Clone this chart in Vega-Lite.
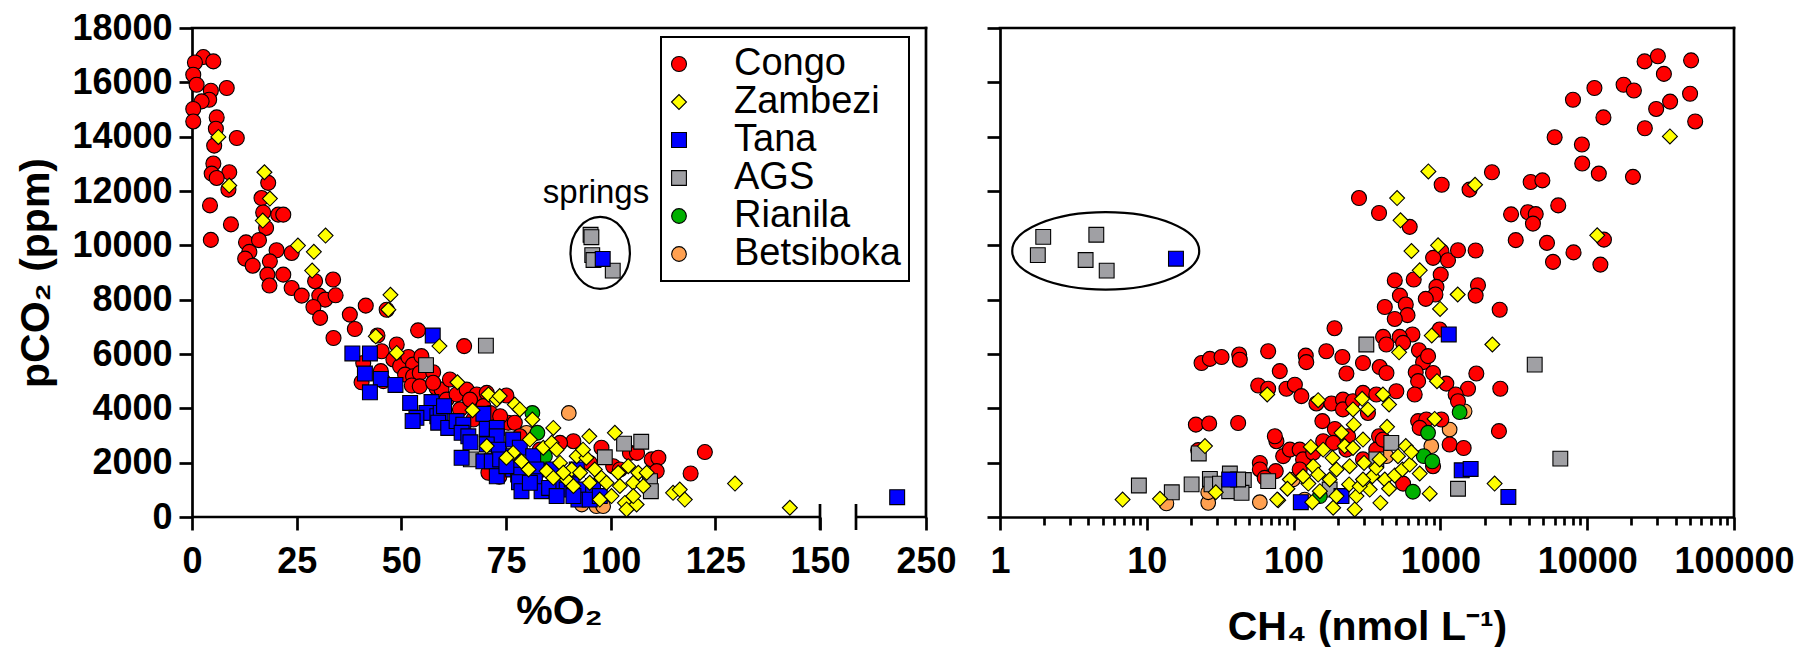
{
  "$schema": "https://vega.github.io/schema/vega-lite/v6.json",
  "padding": {"left": 15, "top": 10, "right": 0, "bottom": 0},
  "bounds": "flush",
  "spacing": 74,
  "config": {
    "view": {"stroke": null},
    "font": "Liberation Sans",
    "axis": {
      "domainColor": "black", "domainWidth": 2.7, "tickColor": "black", "tickWidth": 2.7, "tickSize": 13,
      "labelColor": "black", "titleColor": "black", "labelFont": "Liberation Sans", "titleFont": "Liberation Sans",
      "labelFontWeight": "bold", "titleFontWeight": "bold", "labelFontSize": 36, "titleFontSize": 41,
      "grid": false, "labelOverlap": false, "labelFlush": false
    },
    "legend": {
      "title": null, "padding": 8, "strokeColor": "black", "fillColor": "white",
      "labelFont": "Liberation Sans", "labelFontSize": 38, "labelFontWeight": "normal", "labelColor": "black", "labelLimit": 400,
      "labelOffset": 36, "symbolOffset": -9, "rowPadding": -4.4,
      "symbolStrokeColor": "black", "symbolStrokeWidth": 1.1, "symbolOpacity": 1
    }
  },
  "datasets": {
    "o2": [
      {"river":"Betsiboka","o2":90.0,"pco2":3830},{"river":"Betsiboka","o2":79.9,"pco2":3100},{"river":"Betsiboka","o2":93.1,"pco2":460},{"river":"Betsiboka","o2":96.6,"pco2":400},{"river":"Betsiboka","o2":98.2,"pco2":400},
      {"river":"Congo","o2":2.7,"pco2":16930},{"river":"Congo","o2":5.1,"pco2":16770},{"river":"Congo","o2":0.7,"pco2":16730},{"river":"Congo","o2":0.3,"pco2":16280},{"river":"Congo","o2":1.1,"pco2":15910},{"river":"Congo","o2":4.5,"pco2":15690},{"river":"Congo","o2":8.3,"pco2":15790},{"river":"Congo","o2":4.1,"pco2":15360},{"river":"Congo","o2":2.3,"pco2":15300},{"river":"Congo","o2":0.3,"pco2":15020},
      {"river":"Congo","o2":0.3,"pco2":14560},{"river":"Congo","o2":5.9,"pco2":14710},{"river":"Congo","o2":5.7,"pco2":14290},{"river":"Congo","o2":10.7,"pco2":13950},{"river":"Congo","o2":5.3,"pco2":13670},{"river":"Congo","o2":5.1,"pco2":13010},{"river":"Congo","o2":8.9,"pco2":12690},{"river":"Congo","o2":4.7,"pco2":12640},{"river":"Congo","o2":5.9,"pco2":12480},{"river":"Congo","o2":8.7,"pco2":12050},
      {"river":"Congo","o2":4.3,"pco2":11470},{"river":"Congo","o2":9.3,"pco2":10770},{"river":"Congo","o2":4.5,"pco2":10200},{"river":"Congo","o2":18.2,"pco2":12300},{"river":"Congo","o2":16.6,"pco2":11740},{"river":"Congo","o2":17.0,"pco2":11210},{"river":"Congo","o2":20.6,"pco2":11130},{"river":"Congo","o2":21.8,"pco2":11130},{"river":"Congo","o2":17.7,"pco2":10640},{"river":"Congo","o2":12.9,"pco2":10110},
      {"river":"Congo","o2":16.0,"pco2":10190},{"river":"Congo","o2":13.7,"pco2":9760},{"river":"Congo","o2":12.7,"pco2":9510},{"river":"Congo","o2":14.5,"pco2":9250},{"river":"Congo","o2":20.2,"pco2":9820},{"river":"Congo","o2":23.8,"pco2":9720},{"river":"Congo","o2":18.6,"pco2":9410},{"river":"Congo","o2":18.0,"pco2":8920},{"river":"Congo","o2":21.8,"pco2":8920},{"river":"Congo","o2":18.5,"pco2":8520},
      {"river":"Congo","o2":23.8,"pco2":8430},{"river":"Congo","o2":26.2,"pco2":8150},{"river":"Congo","o2":29.4,"pco2":8680},{"river":"Congo","o2":33.7,"pco2":8740},{"river":"Congo","o2":30.4,"pco2":8150},{"river":"Congo","o2":31.8,"pco2":8000},{"river":"Congo","o2":34.3,"pco2":8160},{"river":"Congo","o2":29.0,"pco2":7730},{"river":"Congo","o2":30.6,"pco2":7330},{"river":"Congo","o2":37.7,"pco2":7450},
      {"river":"Congo","o2":41.5,"pco2":7780},{"river":"Congo","o2":46.5,"pco2":7630},{"river":"Congo","o2":33.8,"pco2":6590},{"river":"Congo","o2":38.9,"pco2":6920},{"river":"Congo","o2":54.0,"pco2":6870},{"river":"Congo","o2":44.3,"pco2":6680},{"river":"Congo","o2":45.3,"pco2":6100},{"river":"Congo","o2":48.9,"pco2":6350},{"river":"Congo","o2":40.9,"pco2":5670},{"river":"Congo","o2":40.5,"pco2":4960},
      {"river":"Congo","o2":45.1,"pco2":5370},{"river":"Congo","o2":45.7,"pco2":5000},{"river":"Congo","o2":48.1,"pco2":5800},{"river":"Congo","o2":49.7,"pco2":5550},{"river":"Congo","o2":51.7,"pco2":5890},{"river":"Congo","o2":52.8,"pco2":5610},{"river":"Congo","o2":54.8,"pco2":5920},{"river":"Congo","o2":50.9,"pco2":5240},{"river":"Congo","o2":52.8,"pco2":5180},{"river":"Congo","o2":54.4,"pco2":5300},
      {"river":"Congo","o2":57.6,"pco2":5330},{"river":"Congo","o2":52.5,"pco2":4840},{"river":"Congo","o2":54.4,"pco2":4810},{"river":"Congo","o2":58.4,"pco2":4750},{"river":"Congo","o2":59.6,"pco2":4690},{"river":"Congo","o2":60.8,"pco2":4320},{"river":"Congo","o2":63.2,"pco2":4510},{"river":"Congo","o2":65.6,"pco2":4690},{"river":"Congo","o2":68.0,"pco2":4510},{"river":"Congo","o2":70.4,"pco2":4570},
      {"river":"Congo","o2":75.1,"pco2":4470},{"river":"Congo","o2":64.0,"pco2":3960},{"river":"Congo","o2":66.4,"pco2":4320},{"river":"Congo","o2":69.6,"pco2":4080},{"river":"Congo","o2":71.2,"pco2":3830},{"river":"Congo","o2":75.5,"pco2":3470},{"river":"Congo","o2":77.1,"pco2":3470},{"river":"Congo","o2":70.8,"pco2":1630},{"river":"Congo","o2":73.4,"pco2":1480},{"river":"Congo","o2":91.1,"pco2":2790},
      {"river":"Congo","o2":97.8,"pco2":2550},{"river":"Congo","o2":104.6,"pco2":2360},{"river":"Congo","o2":106.3,"pco2":2360},{"river":"Congo","o2":109.8,"pco2":2120},{"river":"Congo","o2":111.4,"pco2":2180},{"river":"Congo","o2":111.0,"pco2":1690},{"river":"Congo","o2":122.5,"pco2":2390},{"river":"Congo","o2":119.1,"pco2":1600},{"river":"Congo","o2":65.0,"pco2":6290},{"river":"Congo","o2":78.3,"pco2":2970},
      {"river":"Congo","o2":83.1,"pco2":2480},{"river":"Congo","o2":87.9,"pco2":2730},{"river":"Congo","o2":95.0,"pco2":1990},{"river":"Congo","o2":100.6,"pco2":1870},{"river":"Congo","o2":102.2,"pco2":1750},{"river":"Congo","o2":67.2,"pco2":3590},{"river":"Congo","o2":73.6,"pco2":3710},{"river":"Congo","o2":57.6,"pco2":4940},{"river":"Congo","o2":61.6,"pco2":5060},
      {"river":"AGS","o2":70.2,"pco2":6310},{"river":"AGS","o2":55.9,"pco2":5590},{"river":"AGS","o2":66.6,"pco2":2120},{"river":"AGS","o2":98.6,"pco2":2200},{"river":"AGS","o2":103.2,"pco2":2700},{"river":"AGS","o2":107.3,"pco2":2770},{"river":"AGS","o2":109.4,"pco2":1320},{"river":"AGS","o2":109.6,"pco2":950},
      {"river":"AGS","o2":95.2,"pco2":10390},{"river":"AGS","o2":95.4,"pco2":10300},{"river":"AGS","o2":95.6,"pco2":9640},{"river":"AGS","o2":95.9,"pco2":9460},{"river":"AGS","o2":100.5,"pco2":9070},
      {"river":"Rianila","o2":81.3,"pco2":3830},{"river":"Rianila","o2":82.5,"pco2":3100},{"river":"Rianila","o2":84.3,"pco2":2240},{"river":"Rianila","o2":83.1,"pco2":1750},
      {"river":"Tana","o2":57.5,"pco2":6680},{"river":"Tana","o2":38.3,"pco2":6020},{"river":"Tana","o2":42.5,"pco2":6020},{"river":"Tana","o2":41.3,"pco2":5280},{"river":"Tana","o2":45.1,"pco2":5080},{"river":"Tana","o2":48.6,"pco2":4860},{"river":"Tana","o2":42.5,"pco2":4590},{"river":"Tana","o2":52.1,"pco2":4200},{"river":"Tana","o2":57.2,"pco2":4230},{"river":"Tana","o2":56.0,"pco2":3830},
      {"river":"Tana","o2":53.6,"pco2":3650},{"river":"Tana","o2":52.7,"pco2":3530},{"river":"Tana","o2":58.6,"pco2":3710},{"river":"Tana","o2":59.4,"pco2":3830},{"river":"Tana","o2":60.2,"pco2":4080},{"river":"Tana","o2":58.8,"pco2":3470},{"river":"Tana","o2":61.2,"pco2":3280},{"river":"Tana","o2":63.2,"pco2":3530},{"river":"Tana","o2":64.8,"pco2":3400},{"river":"Tana","o2":64.4,"pco2":3100},
      {"river":"Tana","o2":66.0,"pco2":2970},{"river":"Tana","o2":66.5,"pco2":2750},{"river":"Tana","o2":69.6,"pco2":3800},{"river":"Tana","o2":70.4,"pco2":3240},{"river":"Tana","o2":72.8,"pco2":3280},{"river":"Tana","o2":72.8,"pco2":2970},{"river":"Tana","o2":70.4,"pco2":2670},{"river":"Tana","o2":73.3,"pco2":2480},{"river":"Tana","o2":69.6,"pco2":2050},{"river":"Tana","o2":71.6,"pco2":2050},
      {"river":"Tana","o2":73.6,"pco2":2120},{"river":"Tana","o2":76.7,"pco2":2850},{"river":"Tana","o2":76.7,"pco2":2240},{"river":"Tana","o2":78.3,"pco2":2550},{"river":"Tana","o2":76.7,"pco2":1750},{"river":"Tana","o2":77.9,"pco2":1560},{"river":"Tana","o2":78.1,"pco2":1280},{"river":"Tana","o2":78.7,"pco2":950},{"river":"Tana","o2":81.5,"pco2":2240},{"river":"Tana","o2":82.3,"pco2":1750},
      {"river":"Tana","o2":81.9,"pco2":1320},{"river":"Tana","o2":83.5,"pco2":950},{"river":"Tana","o2":86.3,"pco2":1750},{"river":"Tana","o2":85.3,"pco2":1070},{"river":"Tana","o2":88.7,"pco2":1260},{"river":"Tana","o2":89.5,"pco2":1010},{"river":"Tana","o2":90.7,"pco2":1380},{"river":"Tana","o2":91.9,"pco2":1750},{"river":"Tana","o2":93.5,"pco2":1010},{"river":"Tana","o2":95.8,"pco2":1140},
      {"river":"Tana","o2":92.3,"pco2":640},{"river":"Tana","o2":95.0,"pco2":640},{"river":"Tana","o2":64.4,"pco2":2180},{"river":"Tana","o2":72.8,"pco2":1500},{"river":"Tana","o2":80.7,"pco2":1260},{"river":"Tana","o2":87.1,"pco2":770},{"river":"Tana","o2":91.1,"pco2":770},{"river":"Tana","o2":97.4,"pco2":770},{"river":"Tana","o2":75.1,"pco2":1870},{"river":"Tana","o2":98.1,"pco2":9500},{"river":"Tana","o2":243,"pco2":728},
      {"river":"Zambezi","o2":6.3,"pco2":13990},{"river":"Zambezi","o2":8.9,"pco2":12200},{"river":"Zambezi","o2":17.3,"pco2":12690},{"river":"Zambezi","o2":18.6,"pco2":11720},{"river":"Zambezi","o2":16.9,"pco2":10910},{"river":"Zambezi","o2":25.3,"pco2":9990},{"river":"Zambezi","o2":31.9,"pco2":10360},{"river":"Zambezi","o2":29.1,"pco2":9760},{"river":"Zambezi","o2":28.7,"pco2":9070},{"river":"Zambezi","o2":47.4,"pco2":8180},
      {"river":"Zambezi","o2":46.9,"pco2":7630},{"river":"Zambezi","o2":43.9,"pco2":6650},{"river":"Zambezi","o2":48.9,"pco2":6040},{"river":"Zambezi","o2":59.1,"pco2":6290},{"river":"Zambezi","o2":63.4,"pco2":4960},{"river":"Zambezi","o2":67.0,"pco2":3930},{"river":"Zambezi","o2":70.8,"pco2":4510},{"river":"Zambezi","o2":72.8,"pco2":4320},{"river":"Zambezi","o2":73.5,"pco2":4450},{"river":"Zambezi","o2":77.1,"pco2":4140},
      {"river":"Zambezi","o2":78.3,"pco2":3960},{"river":"Zambezi","o2":81.3,"pco2":3590},{"river":"Zambezi","o2":80.7,"pco2":2850},{"river":"Zambezi","o2":83.9,"pco2":2550},{"river":"Zambezi","o2":86.3,"pco2":3280},{"river":"Zambezi","o2":85.9,"pco2":2730},{"river":"Zambezi","o2":87.1,"pco2":2480},{"river":"Zambezi","o2":70.4,"pco2":2610},{"river":"Zambezi","o2":76.7,"pco2":2360},{"river":"Zambezi","o2":78.7,"pco2":2050},
      {"river":"Zambezi","o2":80.4,"pco2":1750},{"river":"Zambezi","o2":75.1,"pco2":2180},{"river":"Zambezi","o2":84.7,"pco2":1690},{"river":"Zambezi","o2":87.9,"pco2":1990},{"river":"Zambezi","o2":89.5,"pco2":1380},{"river":"Zambezi","o2":90.7,"pco2":1750},{"river":"Zambezi","o2":91.9,"pco2":2240},{"river":"Zambezi","o2":94.2,"pco2":2180},{"river":"Zambezi","o2":94.9,"pco2":2970},{"river":"Zambezi","o2":93.4,"pco2":2480},
      {"river":"Zambezi","o2":96.2,"pco2":1750},{"river":"Zambezi","o2":97.8,"pco2":1440},{"river":"Zambezi","o2":99.0,"pco2":1260},{"river":"Zambezi","o2":101.0,"pco2":3100},{"river":"Zambezi","o2":101.8,"pco2":1630},{"river":"Zambezi","o2":100.2,"pco2":770},{"river":"Zambezi","o2":102.2,"pco2":1140},{"river":"Zambezi","o2":104.2,"pco2":1870},{"river":"Zambezi","o2":105.4,"pco2":1260},{"river":"Zambezi","o2":106.6,"pco2":1630},
      {"river":"Zambezi","o2":107.8,"pco2":1140},{"river":"Zambezi","o2":108.6,"pco2":1630},{"river":"Zambezi","o2":103.4,"pco2":520},{"river":"Zambezi","o2":106.2,"pco2":460},{"river":"Zambezi","o2":103.8,"pco2":280},{"river":"Zambezi","o2":97.4,"pco2":640},{"river":"Zambezi","o2":105.4,"pco2":770},{"river":"Zambezi","o2":114.9,"pco2":890},{"river":"Zambezi","o2":116.5,"pco2":1010},{"river":"Zambezi","o2":117.7,"pco2":640},
      {"river":"Zambezi","o2":91.1,"pco2":1140},{"river":"Zambezi","o2":92.7,"pco2":1630},{"river":"Zambezi","o2":95.0,"pco2":1260},{"river":"Zambezi","o2":88.7,"pco2":1630},{"river":"Zambezi","o2":86.3,"pco2":1440},{"river":"Zambezi","o2":129.7,"pco2":1230},{"river":"Zambezi","o2":142.8,"pco2":340}
    ],
    "ch4": [
      {"river":"Betsiboka","ch4":1462,"pco2":3890},{"river":"Betsiboka","ch4":1156,"pco2":3220},{"river":"Betsiboka","ch4":867,"pco2":2610},{"river":"Betsiboka","ch4":429,"pco2":2240},{"river":"Betsiboka","ch4":26.2,"pco2":520},{"river":"Betsiboka","ch4":26.2,"pco2":910},{"river":"Betsiboka","ch4":58.9,"pco2":545},{"river":"Betsiboka","ch4":13.6,"pco2":500},{"river":"Betsiboka","ch4":119,"pco2":640},{"river":"Betsiboka","ch4":99,"pco2":1380},
      {"river":"Congo","ch4":24600,"pco2":16770},{"river":"Congo","ch4":30300,"pco2":16960},{"river":"Congo","ch4":51000,"pco2":16810},{"river":"Congo","ch4":33300,"pco2":16310},{"river":"Congo","ch4":11200,"pco2":15790},{"river":"Congo","ch4":17700,"pco2":15910},{"river":"Congo","ch4":20800,"pco2":15700},{"river":"Congo","ch4":8000,"pco2":15360},{"river":"Congo","ch4":50200,"pco2":15580},{"river":"Congo","ch4":36700,"pco2":15290},
      {"river":"Congo","ch4":29500,"pco2":15020},{"river":"Congo","ch4":12900,"pco2":14710},{"river":"Congo","ch4":54400,"pco2":14560},{"river":"Congo","ch4":24700,"pco2":14310},{"river":"Congo","ch4":6000,"pco2":13980},{"river":"Congo","ch4":9200,"pco2":13710},{"river":"Congo","ch4":9250,"pco2":13010},{"river":"Congo","ch4":12000,"pco2":12640},{"river":"Congo","ch4":20500,"pco2":12520},{"river":"Congo","ch4":1020,"pco2":12230},
      {"river":"Congo","ch4":1580,"pco2":12050},{"river":"Congo","ch4":2245,"pco2":12690},{"river":"Congo","ch4":4120,"pco2":12330},{"river":"Congo","ch4":4950,"pco2":12390},{"river":"Congo","ch4":279,"pco2":11740},{"river":"Congo","ch4":382,"pco2":11190},{"river":"Congo","ch4":618,"pco2":10680},{"river":"Congo","ch4":3030,"pco2":11140},{"river":"Congo","ch4":3950,"pco2":11220},{"river":"Congo","ch4":4460,"pco2":11150},
      {"river":"Congo","ch4":4270,"pco2":10800},{"river":"Congo","ch4":6350,"pco2":11470},{"river":"Congo","ch4":13000,"pco2":10210},{"river":"Congo","ch4":3260,"pco2":10190},{"river":"Congo","ch4":5320,"pco2":10090},{"river":"Congo","ch4":8070,"pco2":9740},{"river":"Congo","ch4":5850,"pco2":9390},{"river":"Congo","ch4":12300,"pco2":9290},{"river":"Congo","ch4":1016,"pco2":9780},{"river":"Congo","ch4":892,"pco2":9540},
      {"river":"Congo","ch4":1127,"pco2":9450},{"river":"Congo","ch4":1318,"pco2":9820},{"river":"Congo","ch4":1738,"pco2":9810},{"river":"Congo","ch4":1005,"pco2":8920},{"river":"Congo","ch4":658,"pco2":8740},{"river":"Congo","ch4":489,"pco2":8710},{"river":"Congo","ch4":940,"pco2":8470},{"river":"Congo","ch4":925,"pco2":8190},{"river":"Congo","ch4":795,"pco2":8030},{"river":"Congo","ch4":530,"pco2":8150},
      {"river":"Congo","ch4":581,"pco2":7820},{"river":"Congo","ch4":418,"pco2":7730},{"river":"Congo","ch4":597,"pco2":7430},{"river":"Congo","ch4":489,"pco2":7290},{"river":"Congo","ch4":1803,"pco2":8530},{"river":"Congo","ch4":1738,"pco2":8150},{"river":"Congo","ch4":2535,"pco2":7630},{"river":"Congo","ch4":190,"pco2":6950},{"river":"Congo","ch4":407,"pco2":6630},{"river":"Congo","ch4":645,"pco2":6720},
      {"river":"Congo","ch4":988,"pco2":6900},{"river":"Congo","ch4":528,"pco2":6630},{"river":"Congo","ch4":428,"pco2":6350},{"river":"Congo","ch4":557,"pco2":6410},{"river":"Congo","ch4":23.6,"pco2":5670},{"river":"Congo","ch4":26.9,"pco2":5820},{"river":"Congo","ch4":32.3,"pco2":5890},{"river":"Congo","ch4":42.6,"pco2":5980},{"river":"Congo","ch4":43.0,"pco2":5790},{"river":"Congo","ch4":67.1,"pco2":6100},
      {"river":"Congo","ch4":121,"pco2":5940},{"river":"Congo","ch4":122,"pco2":5700},{"river":"Congo","ch4":167,"pco2":6100},{"river":"Congo","ch4":215,"pco2":5890},{"river":"Congo","ch4":80.5,"pco2":5370},{"river":"Congo","ch4":229,"pco2":5280},{"river":"Congo","ch4":297,"pco2":5670},{"river":"Congo","ch4":386,"pco2":5520},{"river":"Congo","ch4":429,"pco2":5300},{"river":"Congo","ch4":714,"pco2":6140},
      {"river":"Congo","ch4":762,"pco2":5700},{"river":"Congo","ch4":824,"pco2":5920},{"river":"Congo","ch4":679,"pco2":5330},{"river":"Congo","ch4":705,"pco2":5000},{"river":"Congo","ch4":891,"pco2":5300},{"river":"Congo","ch4":1097,"pco2":4910},{"river":"Congo","ch4":1757,"pco2":5280},{"river":"Congo","ch4":1542,"pco2":4720},{"river":"Congo","ch4":2559,"pco2":4720},{"river":"Congo","ch4":1270,"pco2":4510},
      {"river":"Congo","ch4":1318,"pco2":4260},{"river":"Congo","ch4":668,"pco2":4510},{"river":"Congo","ch4":57.4,"pco2":4840},{"river":"Congo","ch4":67.1,"pco2":4720},{"river":"Congo","ch4":89.4,"pco2":4720},{"river":"Congo","ch4":102,"pco2":4870},{"river":"Congo","ch4":113,"pco2":4450},{"river":"Congo","ch4":143,"pco2":4180},{"river":"Congo","ch4":181,"pco2":4180},{"river":"Congo","ch4":217,"pco2":4320},
      {"river":"Congo","ch4":217,"pco2":3960},{"river":"Congo","ch4":254,"pco2":4260},{"river":"Congo","ch4":297,"pco2":4570},{"river":"Congo","ch4":366,"pco2":4510},{"river":"Congo","ch4":501,"pco2":4630},{"river":"Congo","ch4":321,"pco2":3830},{"river":"Congo","ch4":21.6,"pco2":3400},{"river":"Congo","ch4":26.6,"pco2":3440},{"river":"Congo","ch4":41.9,"pco2":3460},{"river":"Congo","ch4":157,"pco2":3530},
      {"river":"Congo","ch4":191,"pco2":3240},{"river":"Congo","ch4":235,"pco2":2970},{"river":"Congo","ch4":382,"pco2":2970},{"river":"Congo","ch4":433,"pco2":2730},{"river":"Congo","ch4":705,"pco2":3530},{"river":"Congo","ch4":802,"pco2":3590},{"river":"Congo","ch4":1015,"pco2":3590},{"river":"Congo","ch4":723,"pco2":3280},{"river":"Congo","ch4":1156,"pco2":2670},{"river":"Congo","ch4":1440,"pco2":2540},
      {"river":"Congo","ch4":2505,"pco2":3160},{"river":"Congo","ch4":76.4,"pco2":2790},{"river":"Congo","ch4":74.5,"pco2":2970},{"river":"Congo","ch4":58.9,"pco2":1990},{"river":"Congo","ch4":58.9,"pco2":1750},{"river":"Congo","ch4":75.6,"pco2":1690},{"river":"Congo","ch4":84.9,"pco2":2240},{"river":"Congo","ch4":94.4,"pco2":2480},{"river":"Congo","ch4":110,"pco2":2480},{"river":"Congo","ch4":116,"pco2":2120},
      {"river":"Congo","ch4":110,"pco2":1750},{"river":"Congo","ch4":136,"pco2":2360},{"river":"Congo","ch4":159,"pco2":2790},{"river":"Congo","ch4":186,"pco2":2730},{"river":"Congo","ch4":229,"pco2":2480},{"river":"Congo","ch4":297,"pco2":2120},{"river":"Congo","ch4":366,"pco2":2480},{"river":"Congo","ch4":406,"pco2":2850},{"river":"Congo","ch4":891,"pco2":1870},{"river":"Congo","ch4":557,"pco2":1230},
      {"river":"Congo","ch4":63.6,"pco2":1440},{"river":"Congo","ch4":22.4,"pco2":2460},
      {"river":"AGS","ch4":1.97,"pco2":10310},{"river":"AGS","ch4":4.53,"pco2":10390},{"river":"AGS","ch4":1.81,"pco2":9640},{"river":"AGS","ch4":3.83,"pco2":9460},{"river":"AGS","ch4":5.33,"pco2":9070},{"river":"AGS","ch4":313,"pco2":6350},{"river":"AGS","ch4":4390,"pco2":5610},{"river":"AGS","ch4":6560,"pco2":2150},{"river":"AGS","ch4":1318,"pco2":1040},{"river":"AGS","ch4":14.8,"pco2":910},
      {"river":"AGS","ch4":20.2,"pco2":1200},{"river":"AGS","ch4":26.9,"pco2":1400},{"river":"AGS","ch4":27.6,"pco2":1200},{"river":"AGS","ch4":31.5,"pco2":1230},{"river":"AGS","ch4":36.8,"pco2":1600},{"river":"AGS","ch4":41.3,"pco2":1360},{"river":"AGS","ch4":45.8,"pco2":1360},{"river":"AGS","ch4":36.4,"pco2":950},{"river":"AGS","ch4":44.2,"pco2":890},{"river":"AGS","ch4":67.1,"pco2":1320},
      {"river":"AGS","ch4":463,"pco2":2730},{"river":"AGS","ch4":366,"pco2":2120},{"river":"AGS","ch4":176,"pco2":1010},{"river":"AGS","ch4":8.83,"pco2":1160},{"river":"AGS","ch4":22.6,"pco2":2340},{"river":"AGS","ch4":41.9,"pco2":1380},
      {"river":"Rianila","ch4":1352,"pco2":3860},{"river":"Rianila","ch4":824,"pco2":3100},{"river":"Rianila","ch4":770,"pco2":2240},{"river":"Rianila","ch4":881,"pco2":2050},{"river":"Rianila","ch4":650,"pco2":930},{"river":"Rianila","ch4":151,"pco2":770},
      {"river":"Tana","ch4":15.8,"pco2":9510},{"river":"Tana","ch4":1140,"pco2":6720},{"river":"Tana","ch4":36.4,"pco2":1380},{"river":"Tana","ch4":112,"pco2":545},{"river":"Tana","ch4":212,"pco2":770},{"river":"Tana","ch4":1397,"pco2":1720},{"river":"Tana","ch4":1607,"pco2":1770},{"river":"Tana","ch4":2904,"pco2":740},
      {"river":"Zambezi","ch4":828,"pco2":12720},{"river":"Zambezi","ch4":1722,"pco2":12230},{"river":"Zambezi","ch4":507,"pco2":11740},{"river":"Zambezi","ch4":535,"pco2":10920},{"river":"Zambezi","ch4":635,"pco2":9790},{"river":"Zambezi","ch4":964,"pco2":10000},{"river":"Zambezi","ch4":723,"pco2":9080},{"river":"Zambezi","ch4":1312,"pco2":8190},{"river":"Zambezi","ch4":995,"pco2":7660},{"river":"Zambezi","ch4":11700,"pco2":10370},
      {"river":"Zambezi","ch4":36600,"pco2":14010},{"river":"Zambezi","ch4":873,"pco2":6680},{"river":"Zambezi","ch4":2260,"pco2":6350},{"river":"Zambezi","ch4":12.3,"pco2":670},{"river":"Zambezi","ch4":24.9,"pco2":2610},{"river":"Zambezi","ch4":29.5,"pco2":910},{"river":"Zambezi","ch4":66.1,"pco2":4510},{"river":"Zambezi","ch4":78.5,"pco2":620},{"river":"Zambezi","ch4":94.3,"pco2":1380},{"river":"Zambezi","ch4":90.8,"pco2":1040},
      {"river":"Zambezi","ch4":126,"pco2":1230},{"river":"Zambezi","ch4":131,"pco2":2580},{"river":"Zambezi","ch4":136,"pco2":1870},{"river":"Zambezi","ch4":134,"pco2":545},{"river":"Zambezi","ch4":147,"pco2":4300},{"river":"Zambezi","ch4":151,"pco2":950},{"river":"Zambezi","ch4":159,"pco2":2480},{"river":"Zambezi","ch4":184,"pco2":2180},{"river":"Zambezi","ch4":186,"pco2":340},{"river":"Zambezi","ch4":196,"pco2":1750},
      {"river":"Zambezi","ch4":212,"pco2":3100},{"river":"Zambezi","ch4":223,"pco2":2610},{"river":"Zambezi","ch4":241,"pco2":1870},{"river":"Zambezi","ch4":239,"pco2":1200},{"river":"Zambezi","ch4":254,"pco2":3960},{"river":"Zambezi","ch4":257,"pco2":3400},{"river":"Zambezi","ch4":254,"pco2":2540},{"river":"Zambezi","ch4":261,"pco2":280},{"river":"Zambezi","ch4":268,"pco2":770},{"river":"Zambezi","ch4":293,"pco2":4350},
      {"river":"Zambezi","ch4":297,"pco2":2850},{"river":"Zambezi","ch4":302,"pco2":1990},{"river":"Zambezi","ch4":321,"pco2":3960},{"river":"Zambezi","ch4":330,"pco2":1010},{"river":"Zambezi","ch4":344,"pco2":1500},{"river":"Zambezi","ch4":366,"pco2":1810},{"river":"Zambezi","ch4":390,"pco2":520},{"river":"Zambezi","ch4":406,"pco2":4510},{"river":"Zambezi","ch4":418,"pco2":1380},{"river":"Zambezi","ch4":433,"pco2":3320},
      {"river":"Zambezi","ch4":447,"pco2":4140},{"river":"Zambezi","ch4":447,"pco2":1040},{"river":"Zambezi","ch4":489,"pco2":1530},{"river":"Zambezi","ch4":514,"pco2":2240},{"river":"Zambezi","ch4":523,"pco2":6060},{"river":"Zambezi","ch4":551,"pco2":1750},{"river":"Zambezi","ch4":581,"pco2":2610},{"river":"Zambezi","ch4":618,"pco2":1930},{"river":"Zambezi","ch4":634,"pco2":2390},{"river":"Zambezi","ch4":723,"pco2":1600},
      {"river":"Zambezi","ch4":846,"pco2":860},{"river":"Zambezi","ch4":914,"pco2":3610},{"river":"Zambezi","ch4":948,"pco2":5000},{"river":"Zambezi","ch4":2340,"pco2":1230},{"river":"Zambezi","ch4":176,"pco2":1380},{"river":"Zambezi","ch4":196,"pco2":770},{"river":"Zambezi","ch4":282,"pco2":1130},{"river":"Zambezi","ch4":386,"pco2":2120},{"river":"Zambezi","ch4":147,"pco2":1560},{"river":"Zambezi","ch4":116,"pco2":1500},
      {"river":"Zambezi","ch4":297,"pco2":1380},{"river":"Zambezi","ch4":6.84,"pco2":640},{"river":"Zambezi","ch4":77.3,"pco2":640}
    ]
  },
  "resolve": {"legend": {"color": "independent", "shape": "independent", "size": "independent"}},
  "hconcat": [
    {
      "width": 734,
      "height": 489,
      "layer": [
        {
          "data": {"values": [{}]},
          "mark": {"type": "rule", "color": "black", "strokeWidth": 2.7},
          "encoding": {"x": {"datum": 0}, "x2": {"datum": 150}, "y": {"datum": 0}}
        },
        {
          "data": {"values": [{}]},
          "mark": {"type": "rule", "color": "black", "strokeWidth": 2.7},
          "encoding": {"x": {"datum": 233}, "x2": {"datum": 250}, "y": {"datum": 0}}
        },
        {
          "data": {"values": [{}]},
          "mark": {"type": "rule", "color": "black", "strokeWidth": 2.7, "strokeCap": "square"},
          "encoding": {"x": {"datum": 0}, "x2": {"datum": 250}, "y": {"datum": 18000}}
        },
        {
          "data": {"values": [{}]},
          "mark": {"type": "rule", "color": "black", "strokeWidth": 2.7, "strokeCap": "square"},
          "encoding": {"x": {"datum": 250}, "y": {"datum": 0}, "y2": {"datum": 18000}}
        },
        {
          "data": {"values": [{}]},
          "mark": {"type": "tick", "orient": "vertical", "size": 26, "thickness": 2.7, "color": "black", "opacity": 1},
          "encoding": {"x": {"datum": 150}, "y": {"datum": 0}}
        },
        {
          "data": {"values": [{}]},
          "mark": {"type": "tick", "orient": "vertical", "size": 26, "thickness": 2.7, "color": "black", "opacity": 1},
          "encoding": {"x": {"datum": 233}, "y": {"datum": 0}}
        },
        {
          "data": {"name": "o2"},
          "mark": {"type": "point", "filled": true, "opacity": 1, "stroke": "black", "strokeWidth": 1.1},
          "encoding": {
            "x": {
              "field": "o2", "type": "quantitative",
              "scale": {"domain": [0, 150, 233, 250], "range": [0, 628, 664, 734], "nice": false, "zero": false},
              "axis": {"values": [0, 25, 50, 75, 100, 125, 150, 250], "domain": false, "title": "%O₂", "labelPadding": 14, "titlePadding": 12}
            },
            "y": {
              "field": "pco2", "type": "quantitative",
              "scale": {"domain": [0, 18000], "nice": false, "zero": false},
              "axis": {"values": [0, 2000, 4000, 6000, 8000, 10000, 12000, 14000, 16000, 18000], "format": "d", "title": "pCO₂ (ppm)", "labelPadding": 7, "titlePadding": 14}
            },
            "color": {
              "field": "river", "type": "nominal",
              "scale": {"domain": ["Congo", "Zambezi", "Tana", "AGS", "Rianila", "Betsiboka"], "range": ["#ff0000", "#ffff00", "#0000ff", "#a0a0a4", "#00b000", "#ffa050"]},
              "legend": {"orient": "none", "legendX": 469, "legendY": 9, "encode": {"legend": {"update": {"strokeWidth": {"value": 2}}}}}
            },
            "shape": {
              "field": "river", "type": "nominal",
              "scale": {"domain": ["Congo", "Zambezi", "Tana", "AGS", "Rianila", "Betsiboka"], "range": ["circle", "diamond", "square", "square", "circle", "circle"]},
              "legend": {"orient": "none", "legendX": 469, "legendY": 9, "encode": {"legend": {"update": {"strokeWidth": {"value": 2}}}}}
            },
            "size": {
              "field": "river", "type": "nominal",
              "scale": {"domain": ["Congo", "Zambezi", "Tana", "AGS", "Rianila", "Betsiboka"], "range": [225, 215, 105, 105, 225, 225]},
              "legend": {"orient": "none", "legendX": 469, "legendY": 9, "encode": {"legend": {"update": {"strokeWidth": {"value": 2}}}}}
            }
          }
        },
        {
          "data": {"values": [{}]},
          "mark": {"type": "point", "shape": "M -0.825 0 A 0.825 1 0 1 0 0.825 0 A 0.825 1 0 1 0 -0.825 0 Z", "size": 5184, "filled": false, "stroke": "black", "strokeWidth": 2.2, "opacity": 1},
          "encoding": {"x": {"datum": 97.5}, "y": {"datum": 9720}}
        },
        {
          "data": {"values": [{}]},
          "mark": {"type": "text", "text": "springs", "font": "Liberation Sans", "fontSize": 33, "align": "center", "baseline": "alphabetic", "color": "black"},
          "encoding": {"x": {"datum": 96.5}, "y": {"datum": 11570}}
        }
      ]
    },
    {
      "width": 734,
      "height": 489,
      "layer": [
        {
          "data": {"values": [{}]},
          "mark": {"type": "rule", "color": "black", "strokeWidth": 2.7, "strokeCap": "square"},
          "encoding": {"x": {"datum": 1}, "x2": {"datum": 100000}, "y": {"datum": 18000}}
        },
        {
          "data": {"values": [{}]},
          "mark": {"type": "rule", "color": "black", "strokeWidth": 2.7, "strokeCap": "square"},
          "encoding": {"x": {"datum": 100000}, "y": {"datum": 0}, "y2": {"datum": 18000}}
        },
        {
          "data": {"name": "ch4"},
          "mark": {"type": "point", "filled": true, "opacity": 1, "stroke": "black", "strokeWidth": 1.1},
          "encoding": {
            "x": {
              "field": "ch4", "type": "quantitative",
              "scale": {"type": "log", "domain": [1, 100000], "nice": false},
              "axis": {
                "values": [1, 2, 3, 4, 5, 6, 7, 8, 9, 10, 20, 30, 40, 50, 60, 70, 80, 90, 100, 200, 300, 400, 500, 600, 700, 800, 900, 1000, 2000, 3000, 4000, 5000, 6000, 7000, 8000, 9000, 10000, 20000, 30000, 40000, 50000, 60000, 70000, 80000, 90000, 100000],
                "format": "d",
                "labelExpr": "indexof([1, 10, 100, 1000, 10000, 100000], datum.value) >= 0 ? datum.label : ''",
                "tickSize": {"condition": {"test": "indexof([1, 10, 100, 1000, 10000, 100000], datum.value) >= 0", "value": 13}, "value": 8},
                "title": "CH₄ (nmol L⁻¹)", "labelPadding": 14, "titlePadding": 28
              }
            },
            "y": {
              "field": "pco2", "type": "quantitative",
              "scale": {"domain": [0, 18000], "nice": false, "zero": false},
              "axis": {"values": [0, 2000, 4000, 6000, 8000, 10000, 12000, 14000, 16000, 18000], "labels": false, "title": null}
            },
            "color": {
              "field": "river", "type": "nominal",
              "scale": {"domain": ["Congo", "Zambezi", "Tana", "AGS", "Rianila", "Betsiboka"], "range": ["#ff0000", "#ffff00", "#0000ff", "#a0a0a4", "#00b000", "#ffa050"]},
              "legend": null
            },
            "shape": {
              "field": "river", "type": "nominal",
              "scale": {"domain": ["Congo", "Zambezi", "Tana", "AGS", "Rianila", "Betsiboka"], "range": ["circle", "diamond", "square", "square", "circle", "circle"]},
              "legend": null
            },
            "size": {
              "field": "river", "type": "nominal",
              "scale": {"domain": ["Congo", "Zambezi", "Tana", "AGS", "Rianila", "Betsiboka"], "range": [225, 215, 105, 105, 225, 225]},
              "legend": null
            }
          }
        },
        {
          "data": {"values": [{}]},
          "mark": {"type": "point", "shape": "M -1 0 A 1 0.414 0 1 0 1 0 A 1 0.414 0 1 0 -1 0 Z", "size": 34969, "filled": false, "stroke": "black", "strokeWidth": 2.2, "opacity": 1},
          "encoding": {"x": {"datum": 5.25}, "y": {"datum": 9794}}
        }
      ]
    }
  ]
}
